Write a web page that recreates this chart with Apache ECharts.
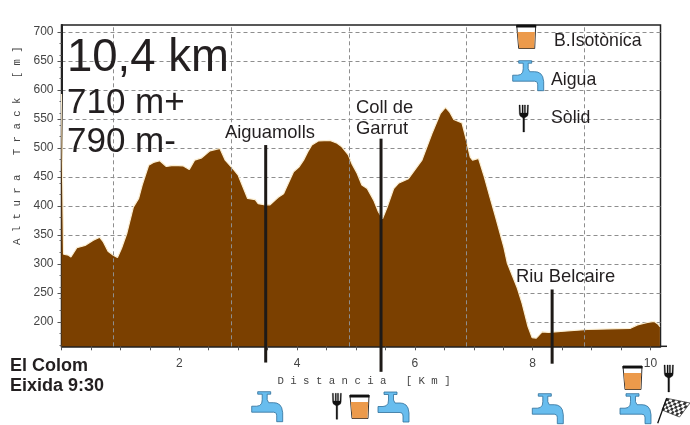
<!DOCTYPE html>
<html><head><meta charset="utf-8">
<style>html,body{margin:0;padding:0;background:#fff}#c{width:690px;height:425px}</style>
<script src="https://cdn.jsdelivr.net/npm/echarts@6/dist/echarts.min.js"></script>
</head><body><div id="c"></div>
<script>
const profileKm=[0,0.03,0.035,0.05,0.12,0.16,0.26,0.40,0.54,0.65,0.71,0.79,0.88,0.95,1.02,1.11,1.22,1.31,1.37,1.48,1.56,1.67,1.78,1.90,2.07,2.17,2.26,2.38,2.52,2.69,2.78,2.92,3.00,3.16,3.29,3.34,3.46,3.54,3.68,3.77,3.94,4.03,4.11,4.18,4.25,4.36,4.56,4.68,4.76,4.87,4.93,5.02,5.10,5.19,5.30,5.38,5.45,5.53,5.64,5.72,5.89,6.12,6.29,6.43,6.52,6.59,6.66,6.80,6.86,6.94,6.98,7.08,7.17,7.28,7.37,7.51,7.57,7.74,7.82,7.92,7.99,8.06,8.16,8.27,8.53,8.93,9.27,9.66,9.78,9.95,10.06,10.13,10.16];
const profileM=[593,593,317,317,315,312,328,332,341,346,338,322,315,311,327,353,398,413,436,470,475,478,468,470,469,463,479,483,495,499,479,463,453,413,411,404,402,402,415,421,459,467,479,493,505,512,513,508,502,488,473,456,436,430,410,390,378,398,430,439,447,479,525,559,570,562,549,543,519,484,479,482,453,413,381,329,301,258,232,192,173,172,183,182,184,187,188,189,195,199,201,196,192];
const gridKm=[0.88,2.88,4.88,6.88,8.88];
const xTicks=[0,0.5,1,1.5,2,2.5,3,3.5,4,4.5,5,5.5,6,6.5,7,7.5,8,8.5,9,9.5,10];
const xLabels=[2,4,6,8,10];
const yLabels=[200,250,300,350,400,450,500,550,600,650,700];
const markerNames=['Aiguamolls','Coll de\nGarrut','Riu Belcaire'];
const markerKm=[3.467,5.425,8.33];
const markerTop=[505,516,256];
const markerBottom=[130,114,128];
const FONT='"Liberation Sans",Arial,sans-serif', INK='#231f20';
const tapPts=[[6,0],[19,0],[19,2.5],[15.5,2.5],[15.5,8],[17,11],[22,11],[25,11.4],[28,13],[30,16],[31,21],[31,30],[25,30],[25,24],[24.6,22],[24,21.2],[22,20.5],[0,20.5],[0,14.5],[5,14.5],[8,13.8],[10,11.5],[10.5,8],[10.5,2.5],[6,2.5]];
const forkPts=[[0,0],[1.2,0],[1.5,8],[3,8],[3,0],[4.2,0],[4.2,8],[5.3,8],[5.3,0],[6.5,0],[6.5,8],[8,8],[8.3,0],[9.5,0],[9.2,9],[8.6,11],[5.6,13],[5.6,27],[3.9,27],[3.9,13],[1,11],[.3,9]];
function tap(x,y){return {type:'polygon',x,y,z:20,shape:{points:tapPts},style:{fill:'#68bdee',stroke:'#2f6f99',lineWidth:.8}};}
function cup(x,y){return {type:'group',x,y,z:20,children:[
 {type:'polygon',z:20,shape:{points:[[0,0],[19,0],[18,23.5],[2,23.5]]},style:{fill:'#fff',stroke:'#333',lineWidth:1}},
 {type:'rect',z:21,shape:{x:-0.5,y:0,width:20,height:2.5},style:{fill:'#111'}},
 {type:'polygon',z:21,shape:{points:[[0.8,7],[18.2,7],[17.4,23.2],[2.4,23.2]]},style:{fill:'#ec9a4b'}}]};}
function fork(x,y,h){const s=h/27;return {type:'polygon',x,y,z:20,shape:{points:forkPts.map(p=>[p[0]*s,p[1]*s])},style:{fill:'#111',stroke:'#111',lineWidth:.3}};}
function flag(x,y){const c=[];
 const corner=[[0,0],[23.3,4.7],[12.8,18.7],[-4.7,11.7]];
 const P=(u,v)=>[0,1].map(d=>corner[0][d]*(1-u)*(1-v)+corner[1][d]*u*(1-v)+corner[2][d]*u*v+corner[3][d]*(1-u)*v);
 const nu=8,nv=5;
 c.push({type:'polygon',z:20,shape:{points:corner},style:{fill:'#fff',stroke:'#222',lineWidth:.7}});
 for(let i=0;i<nu;i++)for(let j=0;j<nv;j++)if((i+j)%2==0)c.push({type:'polygon',z:21,shape:{points:[P(i/nu,j/nv),P((i+1)/nu,j/nv),P((i+1)/nu,(j+1)/nv),P(i/nu,(j+1)/nv)]},style:{fill:'#333'}});
 c.push({type:'line',z:21,shape:{x1:0,y1:0,x2:-9,y2:25},style:{stroke:'#111',lineWidth:1.3}});
 return {type:'group',x,y,z:20,children:c};}
function txt(t,x,y,size,weight,lh){return {type:'text',x,y,z:30,style:{text:t,fill:INK,font:(weight||'normal')+' '+size+'px '+FONT,textVerticalAlign:'middle',textAlign:'left',lineHeight:lh||size*1.2}};}
const chart=echarts.init(document.getElementById('c'),null,{renderer:'canvas'});
const markerSeries=markerKm.map((k,i)=>({type:'line',z:6,clip:false,silent:true,showSymbol:false,symbol:'none',
 data:[[k,markerTop[i]],[k,markerBottom[i]]],lineStyle:{color:'#1e1a17',width:3,cap:'butt'}}));
chart.setOption({animation:false,backgroundColor:'#fff',
 grid:{left:61.5,right:29.5,top:25,bottom:78.7,show:true,borderColor:'#222',borderWidth:1.5,backgroundColor:'transparent'},
 xAxis:{type:'value',min:0,max:10.17,
  name:'D i s t a n c i a   [ K m ]',nameLocation:'middle',nameGap:29,
  nameTextStyle:{fontFamily:'"Liberation Mono",monospace',fontSize:10.7,color:'#444',padding:[0,0,0,6]},
  axisLine:{lineStyle:{color:'#222',width:1.5}},
  axisTick:{length:4,customValues:xTicks,lineStyle:{color:'#555'}},
  axisLabel:{customValues:xLabels,color:'#444',fontSize:12,fontFamily:FONT,margin:11},
  splitLine:{show:false}},
 yAxis:{type:'value',min:158,max:712,
  name:'A l t u r a   T r a c k   [ m ]',nameLocation:'middle',nameGap:33,
  nameTextStyle:{fontFamily:'"Liberation Mono",monospace',fontSize:10.7,color:'#444',padding:[0,0,0,80]},
  axisLine:{lineStyle:{color:'#222',width:2}},
  axisTick:{length:4,customValues:yLabels,lineStyle:{color:'#555'}},
  minorTick:{show:true,splitNumber:5,length:2,lineStyle:{color:'#666'}},
  axisLabel:{customValues:yLabels,color:'#444',fontSize:12,fontFamily:FONT,margin:8},
  splitLine:{show:true,lineStyle:{color:'#8e8e8e',type:[4,3],width:1}}},
 series:[
  {type:'line',z:1,silent:true,showSymbol:false,data:[],
   markLine:{silent:true,symbol:'none',label:{show:false},animation:false,
    lineStyle:{color:'#8e8e8e',type:[4,3],width:1},
    data:gridKm.map(k=>({xAxis:k}))}},
  {type:'line',z:3,silent:true,showSymbol:false,symbol:'none',
   data:profileKm.map((k,i)=>[k,profileM[i]]),
   lineStyle:{color:'#fbeed2',width:1.2},
   areaStyle:{color:'#7b4000',opacity:1,origin:'start'}},
  ...markerSeries],
 graphic:[
  {type:'line',z:5,shape:{x1:660,y1:346.3,x2:667,y2:346.3},style:{stroke:'#222',lineWidth:1.5}},
  txt('10,4 km',67,58,45.5),
  txt('710 m+',67,103,35),
  txt('790 m-',67,142,35),
  txt(markerNames[0],225,133,18.4),
  txt(markerNames[1],356,118.5,18.4,'normal',21.5),
  txt(markerNames[2],516,277,18.4),
  txt('B.Isotònica',554,41,17.7),
  txt('Aigua',551,80,17.7),
  txt('Sòlid',551,118,17.7),
  txt('El Colom\nEixida 9:30',10,376,18,'bold',20),
  cup(516.7,25),tap(512.7,60.7),fork(519,105,27),
  tap(251.7,391.7),fork(332.3,393.3,26),cup(350,395),tap(378,392),
  tap(532.3,393.7),cup(623,366),tap(620,393.7),fork(664,365,27),flag(666.7,398.3)
 ]});
</script></body></html>
